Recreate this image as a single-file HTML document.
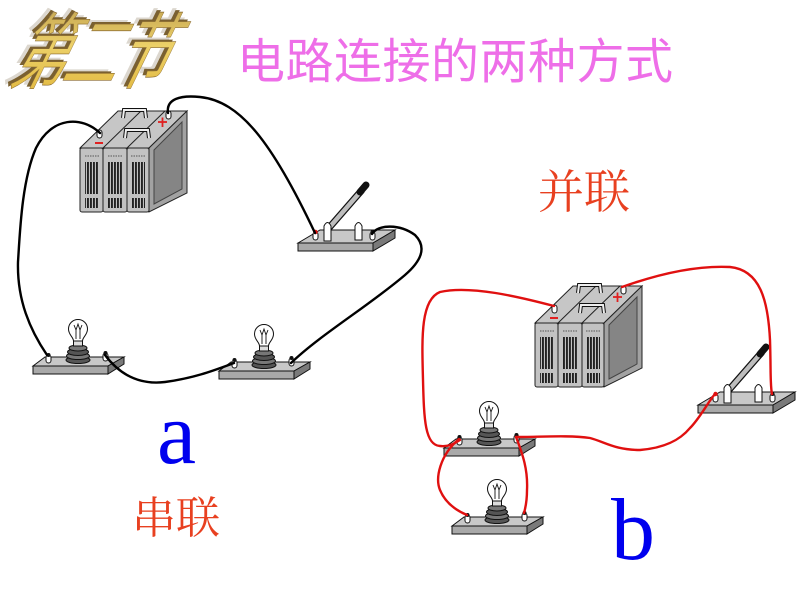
<!DOCTYPE html>
<html><head><meta charset="utf-8"><style>
html,body{margin:0;padding:0;background:#fff;}
svg{display:block;}
</style></head><body>
<svg width="800" height="600" viewBox="0 0 800 600" xmlns="http://www.w3.org/2000/svg">
<defs>
<linearGradient id="gold" x1="0" y1="0" x2="0" y2="1">
<stop offset="0" stop-color="#b09048"/><stop offset="0.5" stop-color="#ecd068"/><stop offset="1" stop-color="#e0b438"/>
</linearGradient>
<pattern id="bars" width="3" height="10" patternUnits="userSpaceOnUse"><rect width="1.9" height="10" fill="#222"/></pattern>
<g id="bat">
 <polygon points="80,148 118,111 187,111 149,148" fill="#c6c6c6" stroke="#222" stroke-width="1"/>
 <line x1="103" y1="148" x2="141" y2="111" stroke="#222"/>
 <line x1="127" y1="148" x2="165" y2="111" stroke="#222"/>
 <polygon points="149,148 187,111 187,193 149,212" fill="#a2a2a2" stroke="#222" stroke-width="1"/>
 <polygon points="154,150 182,122 182,189 154,204" fill="#858585" stroke="#444" stroke-width="1"/>
 <rect x="80" y="148" width="23" height="64" rx="2" fill="#c2c2c2" stroke="#222"/>
 <rect x="103" y="148" width="24" height="64" rx="2" fill="#c2c2c2" stroke="#222"/>
 <rect x="127" y="148" width="22" height="64" rx="2" fill="#c2c2c2" stroke="#222"/>
 <rect x="85" y="162" width="14" height="32" fill="url(#bars)"/>
 <rect x="85" y="198" width="14" height="10" fill="url(#bars)"/>
 <rect x="108" y="162" width="14" height="32" fill="url(#bars)"/>
 <rect x="108" y="198" width="14" height="10" fill="url(#bars)"/>
 <rect x="131" y="162" width="14" height="32" fill="url(#bars)"/>
 <rect x="131" y="198" width="14" height="10" fill="url(#bars)"/>
 <line x1="85" y1="156" x2="99" y2="156" stroke="#555" stroke-dasharray="1.5,1"/>
 <line x1="108" y1="156" x2="122" y2="156" stroke="#555" stroke-dasharray="1.5,1"/>
 <line x1="131" y1="156" x2="145" y2="156" stroke="#555" stroke-dasharray="1.5,1"/>
 <path d="M123,118 L124,110 L145,110 L146,118" fill="none" stroke="#111" stroke-width="4"/>
 <path d="M123,118 L124,110 L145,110 L146,118" fill="none" stroke="#eee" stroke-width="2"/>
 <path d="M125,138 L126,130 L148,130 L149,138" fill="none" stroke="#111" stroke-width="4"/>
 <path d="M125,138 L126,130 L148,130 L149,138" fill="none" stroke="#eee" stroke-width="2"/>
 <rect x="97" y="130" width="5" height="8" rx="2.5" fill="#fff" stroke="#111"/>
 <line x1="95" y1="143" x2="103" y2="143" stroke="#e02020" stroke-width="2"/>
 <rect x="166" y="111" width="5" height="8" rx="2.5" fill="#fff" stroke="#111"/>
 <line x1="158" y1="122" x2="167" y2="122" stroke="#e02020" stroke-width="1.8"/>
 <line x1="162.5" y1="117.5" x2="162.5" y2="127" stroke="#e02020" stroke-width="1.8"/>
</g>
<g id="lamp">
 <polygon points="33,366 45,357 124,357 108,366" fill="#c8c8c8" stroke="#111" stroke-width="1"/>
 <rect x="33" y="366" width="75" height="8" fill="#a9a9a9" stroke="#111"/>
 <polygon points="108,366 124,357 124,364 108,374" fill="#7a7a7a" stroke="#111"/>
 <ellipse cx="78" cy="360" rx="12" ry="3.5" fill="#555" stroke="#111"/>
 <ellipse cx="78" cy="356" rx="11.5" ry="3.5" fill="#777" stroke="#111"/>
 <ellipse cx="78" cy="352" rx="10.5" ry="3.5" fill="#555" stroke="#111"/>
 <ellipse cx="78" cy="348" rx="9" ry="3" fill="#777" stroke="#111"/>
 <rect x="73.5" y="339" width="9" height="7" fill="#ddd" stroke="#111"/>
 <path d="M73.5,341 C73.5,337 68.5,335 68.5,329 A9.5,9.5 0 1 1 87.5,329 C87.5,335 82.5,337 82.5,341 Z" fill="#fff" stroke="#111" stroke-width="1"/>
 <path d="M74,325 L76,330 L78,324 L80,330 L82,325 M76,330 L76,339 M80,330 L80,339" fill="none" stroke="#111" stroke-width="0.9"/>
 <rect x="46" y="355" width="5" height="8" rx="2.5" fill="#fff" stroke="#111"/>
 <circle cx="48.5" cy="355" r="2" fill="#111"/>
 <rect x="103" y="353" width="5" height="8" rx="2.5" fill="#fff" stroke="#111"/>
 <circle cx="105.5" cy="353" r="2" fill="#111"/>
</g>
<g id="sw">
 <polygon points="298,243 320,230 395,230 373,243" fill="#c8c8c8" stroke="#111"/>
 <rect x="298" y="243" width="75" height="8" fill="#a9a9a9" stroke="#111"/>
 <polygon points="373,243 395,230 395,238 373,251" fill="#7a7a7a" stroke="#111"/>
 <line x1="328" y1="229" x2="362" y2="190" stroke="#111" stroke-width="7"/>
 <line x1="328" y1="229" x2="362" y2="190" stroke="#bdbdbd" stroke-width="4.5"/>
 <line x1="360" y1="192" x2="366" y2="185" stroke="#111" stroke-width="7" stroke-linecap="round"/>
 <path d="M324,241 L324,226 Q327.5,219 331,226 L331,241 Z" fill="#fff" stroke="#111"/>
 <path d="M355,240 L355,226 Q358.5,219 362,226 L362,240 Z" fill="#fff" stroke="#111"/>
 <rect x="313" y="232" width="5" height="8" rx="2.5" fill="#fff" stroke="#111"/>
 <circle cx="315.5" cy="232" r="2.2" fill="#e01010"/>
 <rect x="370" y="232" width="5" height="8" rx="2.5" fill="#fff" stroke="#111"/>
 <circle cx="372.5" cy="232" r="2" fill="#111"/>
</g>
</defs>

<!-- WordArt 第二节 -->
<g font-family="Noto Sans CJK SC, WenQuanYi Zen Hei, sans-serif">
<text x="0" y="0" font-size="64" letter-spacing="-4" transform="translate(2,78) skewX(-26) scale(0.85,1.3)" fill="#c0b8a8" opacity="0.55">第二节</text>
<text x="0" y="0" font-size="64" letter-spacing="-4" transform="translate(5,80) skewX(-26) scale(0.85,1.3)" fill="#7a6030">第二节</text>
<text x="0" y="0" font-size="64" letter-spacing="-4" transform="translate(8,82) skewX(-26) scale(0.85,1.3)" fill="url(#gold)" stroke="#8a6a30" stroke-width="0.5">第二节</text>
</g>

<text x="237" y="78" font-size="48" textLength="436" lengthAdjust="spacing" fill="#ee6ee8" font-family="Liberation Sans, Noto Sans CJK SC, sans-serif">电路连接的两种方式</text>

<text x="538" y="208" font-size="46" fill="#e84020" font-family="Liberation Serif, Noto Serif CJK SC, serif">并联</text>
<text x="132" y="533" font-size="44" fill="#e84020" font-family="Liberation Serif, Noto Serif CJK SC, serif">串联</text>
<text x="157" y="463" font-size="88" fill="#0000ee" font-family="Liberation Serif, serif">a</text>
<text x="611" y="559" font-size="88" fill="#0000ee" font-family="Liberation Serif, serif">b</text>

<!-- circuit a -->
<use href="#bat"/>
<use href="#sw"/>
<use href="#lamp"/>
<use href="#lamp" transform="translate(186,5)"/>
<g fill="none" stroke="#000" stroke-width="2.4" stroke-linecap="round">
 <path d="M100,133 C82,116 52,116 36,148 C22,180 20,230 18,262 C17,300 30,330 47,355"/>
 <path d="M168,113 C166,99 180,95 200,97 C240,101 272,142 315,233"/>
 <path d="M372,234 C378,224 400,224 415,235 C428,248 420,262 405,275 C370,305 320,335 291,363"/>
 <path d="M105,355 C120,375 140,385 165,382 C195,378 215,370 234,363"/>
</g>

<!-- circuit b -->
<use href="#bat" transform="translate(455,175)"/>
<use href="#sw" transform="translate(400,162)"/>
<use href="#lamp" transform="translate(411,82)"/>
<use href="#lamp" transform="translate(419,160)"/>
<g fill="none" stroke="#e01010" stroke-width="2.4" stroke-linecap="round">
 <path d="M554,306 C520,297 470,285 440,292 C420,300 422,340 423,380 C424,420 425,445 440,446 C450,447 455,443 460,440"/>
 <path d="M622,287 C650,277 690,265 730,267 C760,270 768,300 770,340 C771,370 770,385 772,394"/>
 <path d="M516,437 C540,437 570,435 590,438 C605,442 615,450 640,450 C665,448 680,440 690,428 C700,418 708,402 715,394"/>
 <path d="M459,439 C440,455 435,478 440,490 C445,502 455,510 467,515"/>
 <path d="M516,437 C523,455 528,470 527,490 C527,500 526,506 524,513"/>
</g>
</svg>
</body></html>
